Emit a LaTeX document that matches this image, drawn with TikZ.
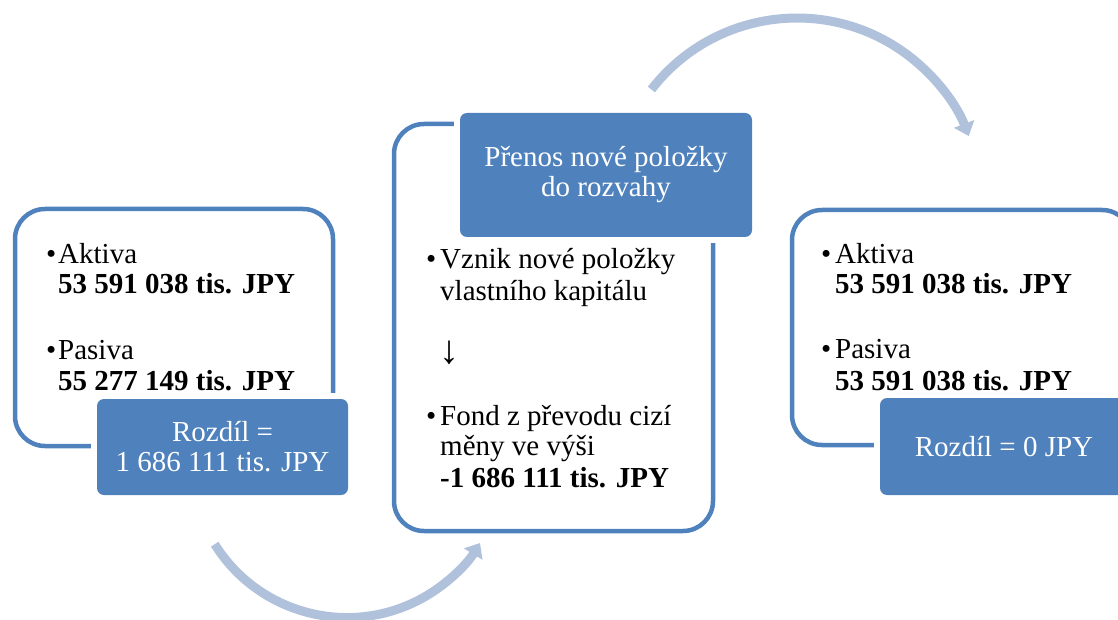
\documentclass[tikz,border=0pt]{standalone}
\usepackage{fontspec}
\setmainfont{Liberation Serif}
\usetikzlibrary{arrows.meta}
\definecolor{boxblue}{HTML}{4F81BD}
\definecolor{arcblue}{HTML}{B0C1DC}

\begin{document}
\begin{tikzpicture}[x=1pt,y=-1pt,
  frame/.style={draw=boxblue, line width=4.5pt, rounded corners=30pt, inner sep=0pt},
  tag/.style={fill=boxblue, rounded corners=7pt, inner sep=0pt,
              preaction={draw=white, line width=12pt},
              text=white, align=center, font=\fontsize{29}{30}\selectfont},
  txt/.style={font=\fontsize{29}{31}\selectfont, inner sep=0pt, anchor=base west},
  btxt/.style={txt, font=\fontsize{29}{31}\selectfont\bfseries},
  flow/.style={draw=arcblue, line width=9pt, -{Triangle[width=21pt,length=13pt]}}
]
\useasboundingbox (0,0) rectangle (1118,620);
\clip (0,0) rectangle (1118,620);

% left panel: balance before the transfer
\node[frame, minimum width=318pt, minimum height=237pt] (f1) at (174,327.5) {};
\node[tag, minimum width=251pt, minimum height=96pt] (t1) at (222.5,447)
  {Rozdíl =\\1 686 111 tis. JPY};
\node[txt] (b1a) at (46,263) {•};
\node[txt] (l1a) at (58,263) {Aktiva};
\node[btxt] (v1a) at (58,293) {53 591 038 tis. JPY};
\node[txt] (b1b) at (46,359) {•};
\node[txt] (l1b) at (58,359) {Pasiva};
\node[btxt] (v1b) at (58,390) {55 277 149 tis. JPY};

% middle panel: new equity item
\node[frame, minimum width=319pt, minimum height=407pt] (f2) at (553.5,327.5) {};
\node[tag, minimum width=292pt, minimum height=124pt] (t2) at (606,175)
  {Přenos nové položky\\do rozvahy};
\node[txt] (b2a) at (426,268) {•};
\node[txt] (l2a) at (440,268) {Vznik nové položky};
\node[txt] (l2b) at (440,300) {vlastního kapitálu};
\node[txt, font=\fontsize{40}{40}\selectfont] (dn) at (439,363) {↓};
\node[txt] (b2b) at (426,425) {•};
\node[txt] (l2c) at (440,425) {Fond z převodu cizí};
\node[txt] (l2d) at (440,455) {měny ve výši};
\node[btxt] (v2) at (440,487) {-1 686 111 tis. JPY};

% right panel: balance after the transfer
\node[frame, minimum width=340pt, minimum height=235pt] (f3) at (962,327.5) {};
\node[tag, minimum width=248pt, minimum height=97pt] (t3) at (1004,446.5)
  {Rozdíl = 0 JPY};
\node[txt] (b3a) at (821,263) {•};
\node[txt] (l3a) at (835,263) {Aktiva};
\node[btxt] (v3a) at (835,293) {53 591 038 tis. JPY};
\node[txt] (b3b) at (821,358) {•};
\node[txt] (l3b) at (835,358) {Pasiva};
\node[btxt] (v3b) at (835,390) {53 591 038 tis. JPY};

% curved flow arrows between the panels
\coordinate (s1) at (214.7,544.2);
\coordinate (s2) at (651.4,89.5);
\draw[flow] (s1) arc[start angle=148, end angle=31.5, radius=156];
\draw[flow] (s2) arc[start angle=217.7, end angle=339, radius=184];
\end{tikzpicture}
\end{document}
